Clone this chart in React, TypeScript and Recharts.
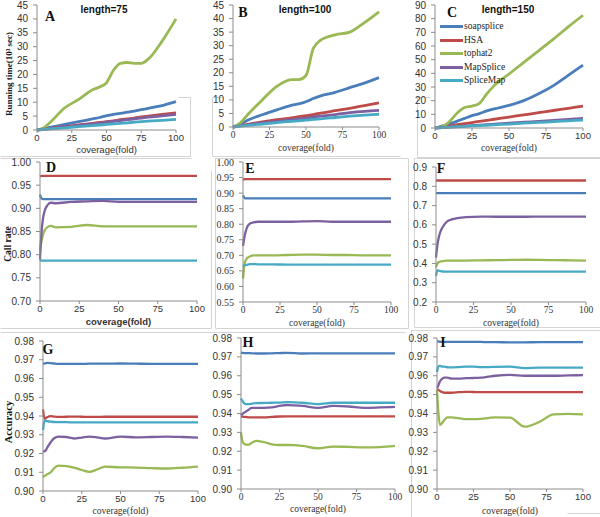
import React from 'react';
import { LineChart, Line, XAxis, YAxis, Legend } from 'recharts';

const SERIES = ['soapsplice', 'HSA', 'tophat2', 'MapSplice', 'SpliceMap'];
const COLORS = ['#4A7EBB', '#BE4B48', '#98B954', '#7D60A0', '#46AAC5'];
const SANS = '"Liberation Sans", Arial, sans-serif';
const SERIF = '"Liberation Serif", "Times New Roman", serif';

const X_TICKS = [0, 25, 50, 75, 100];
const TIME_TICKS = [0, 5, 10, 15, 20, 25, 30, 35, 40, 45];
const TIME_TICKS_C = [0, 10, 20, 30, 40, 50, 60, 70, 80, 90];
const CALL_TICKS_D = [0.7, 0.75, 0.8, 0.85, 0.9, 0.95, 1.0];
const CALL_TICKS_E = [0.55, 0.6, 0.65, 0.7, 0.75, 0.8, 0.85, 0.9, 0.95, 1.0];
const CALL_TICKS_F = [0.2, 0.3, 0.4, 0.5, 0.6, 0.7, 0.8, 0.9];
const ACC_TICKS = [0.9, 0.91, 0.92, 0.93, 0.94, 0.95, 0.96, 0.97, 0.98];

// ---- Running time (10^3 sec) ----
const A_x = [0, 5, 10, 20, 30, 40, 45, 50, 55, 60, 65, 70, 75, 80, 90, 100];
const A_soap = [0, 0.5, 1, 2, 3, 4, 4.5, 5.2, 5.6, 6, 6.4, 6.8, 7.3, 7.8, 8.8, 10.2];
const A_hsa = [0, 0.3, 0.6, 1.2, 1.8, 2.4, 2.7, 3, 3.3, 3.7, 4, 4.3, 4.7, 5, 5.6, 6.2];
const A_tophat = [0, 0.8, 3, 8, 11, 14.5, 15.5, 17, 21.5, 24, 24.3, 24, 24, 25.5, 32, 40];
const A_map = [0, 0.3, 0.5, 1.1, 1.7, 2.2, 2.5, 2.8, 3.1, 3.4, 3.7, 4, 4.3, 4.6, 5.1, 5.6];
const A_smap = [0, 0.2, 0.4, 0.8, 1.2, 1.6, 1.8, 2, 2.2, 2.4, 2.6, 2.8, 3, 3.2, 3.5, 3.8];

const B_x = [0, 5, 10, 20, 30, 40, 45, 50, 55, 60, 70, 80, 90, 100];
const B_soap = [0, 1, 2.5, 4.5, 6.3, 8, 8.5, 9.3, 10.5, 11.5, 12.8, 14.5, 16.2, 18.2];
const B_hsa = [0, 0.5, 1, 1.9, 2.7, 3.4, 3.8, 4.2, 4.6, 5.1, 6, 6.9, 7.9, 8.9];
const B_tophat = [0, 1.5, 4.5, 10, 15, 17.5, 17.5, 19, 29, 32, 34, 35, 38.5, 42.5];
const B_map = [0, 0.4, 0.8, 1.5, 2.1, 2.7, 3, 3.3, 3.7, 4, 4.6, 5.3, 5.8, 6.1];
const B_smap = [0, 0.3, 0.6, 1.1, 1.6, 2.1, 2.3, 2.5, 2.8, 3, 3.5, 4, 4.4, 4.7];

const C_x = [0, 5, 10, 15, 20, 25, 30, 35, 40, 50, 60, 70, 80, 90, 100];
const C_soap = [0, 1.5, 3, 5, 7, 9, 10.5, 12.5, 14, 16.5, 20, 25, 31, 38.5, 46];
const C_hsa = [0, 0.8, 1.6, 2.4, 3.2, 4, 4.8, 5.6, 6.4, 8, 9.6, 11.2, 12.8, 14.4, 16];
const C_tophat = [0, 1, 5, 11, 15, 16, 18, 25, 31, 39.5, 48, 56.5, 65, 74, 82.5];
const C_map = [0, 0.35, 0.7, 1, 1.4, 1.7, 2.1, 2.4, 2.8, 3.5, 4.2, 4.9, 5.6, 6.3, 7];
const C_smap = [0, 0.3, 0.6, 0.9, 1.2, 1.5, 1.8, 2, 2.3, 2.9, 3.5, 4.1, 4.6, 5.2, 5.8];

// ---- Call rate ----
const MID_x = [0, 1, 2, 3, 5, 7, 10, 20, 30, 40, 50, 60, 70, 80, 90, 100];
const D_soap = [0.93, 0.921, 0.92, 0.92, 0.92, 0.92, 0.92, 0.92, 0.92, 0.92, 0.92, 0.92, 0.92, 0.92, 0.92, 0.92];
const D_hsa = [0.969, 0.97, 0.97, 0.97, 0.97, 0.97, 0.97, 0.97, 0.97, 0.97, 0.97, 0.97, 0.97, 0.97, 0.97, 0.97];
const D_tophat = [0.81, 0.83, 0.845, 0.853, 0.86, 0.862, 0.859, 0.86, 0.864, 0.861, 0.861, 0.861, 0.861, 0.861, 0.861, 0.861];
const D_map = [0.79, 0.85, 0.88, 0.895, 0.908, 0.912, 0.911, 0.914, 0.915, 0.916, 0.914, 0.914, 0.914, 0.914, 0.914, 0.914];
const D_smap = [0.79, 0.787, 0.787, 0.787, 0.787, 0.787, 0.787, 0.787, 0.787, 0.787, 0.787, 0.787, 0.787, 0.787, 0.787, 0.787];

const E_soap = [0.893, 0.885, 0.883, 0.883, 0.883, 0.883, 0.883, 0.883, 0.883, 0.883, 0.883, 0.883, 0.883, 0.883, 0.883, 0.883];
const E_hsa = [0.942, 0.945, 0.945, 0.945, 0.945, 0.945, 0.945, 0.945, 0.945, 0.945, 0.945, 0.945, 0.945, 0.945, 0.945, 0.945];
const E_tophat = [0.625, 0.67, 0.686, 0.692, 0.697, 0.7, 0.7, 0.7, 0.701, 0.702, 0.702, 0.701, 0.701, 0.7, 0.7, 0.7];
const E_map = [0.73, 0.76, 0.78, 0.793, 0.803, 0.806, 0.808, 0.808, 0.808, 0.809, 0.81, 0.808, 0.808, 0.808, 0.808, 0.808];
const E_smap = [0.665, 0.668, 0.669, 0.67, 0.672, 0.672, 0.671, 0.671, 0.67, 0.67, 0.67, 0.67, 0.67, 0.67, 0.67, 0.67];

const F_soap = [0.765, 0.765, 0.765, 0.765, 0.765, 0.765, 0.765, 0.765, 0.765, 0.765, 0.765, 0.765, 0.765, 0.765, 0.765, 0.765];
const F_hsa = [0.83, 0.83, 0.83, 0.83, 0.83, 0.83, 0.83, 0.83, 0.83, 0.83, 0.83, 0.83, 0.83, 0.83, 0.83, 0.83];
const F_tophat = [0.38, 0.4, 0.408, 0.41, 0.412, 0.414, 0.415, 0.415, 0.416, 0.417, 0.418, 0.419, 0.418, 0.417, 0.416, 0.415];
const F_map = [0.43, 0.5, 0.54, 0.565, 0.595, 0.615, 0.627, 0.64, 0.643, 0.642, 0.642, 0.642, 0.643, 0.643, 0.643, 0.643];
const F_smap = [0.335, 0.365, 0.362, 0.36, 0.358, 0.357, 0.357, 0.357, 0.357, 0.357, 0.357, 0.357, 0.357, 0.357, 0.357, 0.357];

// ---- Accuracy ----
const BOT_x = [0, 1, 2, 3, 5, 7, 10, 15, 20, 25, 30, 35, 40, 50, 60, 70, 80, 90, 100];
const G_soap = [0.9678, 0.968, 0.9682, 0.9683, 0.9682, 0.968, 0.9678, 0.9678, 0.9678, 0.9678, 0.9679, 0.9679, 0.9679, 0.968, 0.9679, 0.9678, 0.9678, 0.9678, 0.9678];
const G_hsa = [0.9435, 0.9385, 0.939, 0.9395, 0.9399, 0.9397, 0.9395, 0.9396, 0.9397, 0.9396, 0.9395, 0.9395, 0.9396, 0.9396, 0.9396, 0.9396, 0.9396, 0.9396, 0.9396];
const G_tophat = [0.9075, 0.908, 0.9085, 0.909, 0.91, 0.912, 0.9135, 0.9133, 0.9125, 0.9112, 0.9102, 0.9115, 0.913, 0.9126, 0.9125, 0.9122, 0.912, 0.9124, 0.913];
const G_map = [0.921, 0.9212, 0.922, 0.9235, 0.926, 0.928, 0.929, 0.9288, 0.928, 0.9285, 0.929, 0.9286, 0.928, 0.929, 0.9286, 0.9288, 0.929, 0.9288, 0.9285];
const G_smap = [0.9325, 0.9375, 0.9374, 0.9372, 0.937, 0.9368, 0.9367, 0.9367, 0.9366, 0.9366, 0.9366, 0.9366, 0.9366, 0.9366, 0.9366, 0.9366, 0.9366, 0.9366, 0.9366];

const H_soap = [0.9722, 0.9721, 0.972, 0.972, 0.972, 0.9719, 0.9718, 0.9718, 0.9719, 0.972, 0.9721, 0.972, 0.9718, 0.9719, 0.9719, 0.9719, 0.9719, 0.9719, 0.9719];
const H_hsa = [0.9385, 0.9383, 0.9382, 0.9382, 0.938, 0.938, 0.9379, 0.938, 0.9382, 0.9384, 0.9385, 0.9385, 0.9385, 0.9385, 0.9385, 0.9385, 0.9385, 0.9385, 0.9385];
const H_tophat = [0.93, 0.925, 0.924, 0.9235, 0.9235, 0.9245, 0.9255, 0.9248, 0.9237, 0.9233, 0.9233, 0.9232, 0.9228, 0.9216, 0.9225, 0.9223, 0.9221, 0.9222, 0.9228];
const H_map = [0.939, 0.9398, 0.9405, 0.941, 0.942, 0.943, 0.943, 0.943, 0.9432, 0.944, 0.9445, 0.9443, 0.944, 0.943, 0.944, 0.9437, 0.943, 0.9432, 0.9435];
const H_smap = [0.948, 0.9465, 0.9455, 0.945, 0.945, 0.9452, 0.9455, 0.9456, 0.9457, 0.9458, 0.946, 0.9459, 0.9457, 0.945, 0.9457, 0.9457, 0.9457, 0.9457, 0.9457];

const I_soap = [0.9782, 0.9782, 0.978, 0.978, 0.9779, 0.9779, 0.978, 0.978, 0.978, 0.9779, 0.9779, 0.9778, 0.9778, 0.9777, 0.9777, 0.9778, 0.9778, 0.9778, 0.9778];
const I_hsa = [0.953, 0.9525, 0.952, 0.9515, 0.951, 0.951, 0.951, 0.9513, 0.9515, 0.9514, 0.9513, 0.9513, 0.9513, 0.9513, 0.9513, 0.9513, 0.9513, 0.9513, 0.9513];
const I_tophat = [0.9525, 0.94, 0.934, 0.9345, 0.9365, 0.938, 0.938, 0.9375, 0.937, 0.937, 0.9372, 0.9376, 0.938, 0.9378, 0.933, 0.9355, 0.9395, 0.9398, 0.9395];
const I_map = [0.9535, 0.955, 0.957, 0.958, 0.959, 0.959, 0.9585, 0.9585, 0.9587, 0.9588, 0.959, 0.9595, 0.96, 0.9605, 0.96, 0.96, 0.96, 0.9602, 0.9603];
const I_smap = [0.962, 0.965, 0.9652, 0.965, 0.9648, 0.9645, 0.9644, 0.9646, 0.9648, 0.9648, 0.9646, 0.9646, 0.9647, 0.9648, 0.964, 0.9643, 0.9643, 0.9643, 0.9643];

type Panel = {
  id: string;
  x: number[];
  series: number[][];
  domain: [number, number];
  ticks: number[];
  digits: number;
  plot: { x: number; y: number; w: number; h: number };
  yFont: string;
  xFont: string;
  labelFont: string;
  labelBold: boolean;
  labelDy: number;
  lw: number;
  legend?: boolean;
};

const PANELS: Panel[] = [
  { id: 'A', x: A_x, series: [A_soap, A_hsa, A_tophat, A_map, A_smap], domain: [0, 45], ticks: TIME_TICKS, digits: 0,
    plot: { x: 37, y: 5, w: 139, h: 125 }, yFont: SANS, xFont: SANS, labelFont: SANS, labelBold: false, labelDy: 19.5, lw: 2.8 },
  { id: 'B', x: B_x, series: [B_soap, B_hsa, B_tophat, B_map, B_smap], domain: [0, 45], ticks: TIME_TICKS, digits: 0,
    plot: { x: 233, y: 5, w: 146, h: 122 }, yFont: SANS, xFont: SERIF, labelFont: SERIF, labelBold: false, labelDy: 20.5, lw: 2.8 },
  { id: 'C', x: C_x, series: [C_soap, C_hsa, C_tophat, C_map, C_smap], domain: [0, 90], ticks: TIME_TICKS_C, digits: 0,
    plot: { x: 435, y: 5, w: 148, h: 123 }, yFont: SANS, xFont: SANS, labelFont: SERIF, labelBold: false, labelDy: 20, lw: 2.8, legend: true },
  { id: 'D', x: MID_x, series: [D_soap, D_hsa, D_tophat, D_map, D_smap], domain: [0.7, 1.0], ticks: CALL_TICKS_D, digits: 2,
    plot: { x: 40, y: 162, w: 157, h: 139 }, yFont: SANS, xFont: SANS, labelFont: SANS, labelBold: true, labelDy: 21, lw: 2.3 },
  { id: 'E', x: MID_x, series: [E_soap, E_hsa, E_tophat, E_map, E_smap], domain: [0.55, 1.0], ticks: CALL_TICKS_E, digits: 2,
    plot: { x: 243, y: 162, w: 148, h: 140 }, yFont: SERIF, xFont: SERIF, labelFont: SERIF, labelBold: false, labelDy: 20.5, lw: 2.3 },
  { id: 'F', x: MID_x, series: [F_soap, F_hsa, F_tophat, F_map, F_smap], domain: [0.2, 0.9], ticks: CALL_TICKS_F, digits: 1,
    plot: { x: 436, y: 167, w: 150, h: 135 }, yFont: SANS, xFont: SERIF, labelFont: SERIF, labelBold: false, labelDy: 20.5, lw: 2.3 },
  { id: 'G', x: BOT_x, series: [G_soap, G_hsa, G_tophat, G_map, G_smap], domain: [0.9, 0.98], ticks: ACC_TICKS, digits: 2,
    plot: { x: 43, y: 341, w: 155, h: 150 }, yFont: SANS, xFont: SANS, labelFont: SERIF, labelBold: false, labelDy: 20, lw: 2.3 },
  { id: 'H', x: BOT_x, series: [H_soap, H_hsa, H_tophat, H_map, H_smap], domain: [0.9, 0.98], ticks: ACC_TICKS, digits: 2,
    plot: { x: 241, y: 338, w: 154, h: 151 }, yFont: SANS, xFont: SERIF, labelFont: SERIF, labelBold: false, labelDy: 20, lw: 2.3 },
  { id: 'I', x: BOT_x, series: [I_soap, I_hsa, I_tophat, I_map, I_smap], domain: [0.9, 0.98], ticks: ACC_TICKS, digits: 2,
    plot: { x: 437, y: 338, w: 146, h: 151 }, yFont: SANS, xFont: SANS, labelFont: SERIF, labelBold: false, labelDy: 22, lw: 2.3 },
];

const LETTERS = [
  { t: 'A', x: 50, y: 17 }, { t: 'B', x: 243, y: 13 }, { t: 'C', x: 452, y: 13 },
  { t: 'D', x: 51, y: 168 }, { t: 'E', x: 250, y: 169 }, { t: 'F', x: 441, y: 169 },
  { t: 'G', x: 48, y: 350 }, { t: 'H', x: 248, y: 343 }, { t: 'I', x: 443, y: 343 },
];
const TITLES = [
  { t: 'length=75', x: 104, y: 10 }, { t: 'length=100', x: 305, y: 10 }, { t: 'length=150', x: 508, y: 10 },
];

const FRAMES = [
  [190, 97, 190, 156], [0, 156, 190, 156], [178, 97, 190, 97],
  [212, 97, 212, 156], [212, 156, 400, 156], [212, 97, 222, 97],
  [417, 97, 417, 157], [417, 157, 600, 157], [417, 97, 430, 97],
  [0, 158, 191, 158], [211, 170, 211, 328], [0, 328, 211, 328],
  [215, 158, 408, 158], [215, 158, 215, 328], [408, 158, 408, 328], [215, 328, 408, 328],
  [414, 158, 600, 158], [414, 158, 414, 327], [414, 327, 600, 327],
  [0, 332, 405, 332],
  [411, 330, 600, 330], [411, 330, 411, 517], [567, 513, 600, 513],
];

const YW = 34, MT = 8, MR = 14, XH = 30;

function LegendBox() {
  return (
    <div style={{ fontFamily: SERIF, fontSize: 9.5, color: '#222' }}>
      {SERIES.map((s, i) => (
        <div key={s} style={{ display: 'flex', alignItems: 'center', height: 13.5 }}>
          <span style={{ display: 'inline-block', width: 23, height: 3, background: COLORS[i] }} />
          <span style={{ marginLeft: 1, lineHeight: '13.5px' }}>{s}</span>
        </div>
      ))}
    </div>
  );
}

function PanelChart({ p }: { p: Panel }) {
  const W = p.plot.w + YW + MR;
  const H = p.plot.h + MT + XH;
  const data = p.x.map((c, i) => {
    const row: any = { c };
    SERIES.forEach((s, k) => { row[s] = p.series[k][i]; });
    return row;
  });
  const xLabel = (props: any) => {
    const vb = props.viewBox || { x: YW, y: MT + p.plot.h, width: p.plot.w, height: XH };
    return (
      <text x={vb.x + vb.width / 2} y={vb.y + p.labelDy} dy="0.35em" textAnchor="middle"
        fontFamily={p.labelFont} fontSize={9.5} fontWeight={p.labelBold ? 'bold' : 'normal'} fill="#333">
        coverage(fold)
      </text>
    );
  };
  return (
    <div style={{ position: 'absolute', left: p.plot.x - YW, top: p.plot.y - MT }}>
      <LineChart width={W} height={H} data={data} margin={{ top: MT, right: MR, left: 0, bottom: 0 }}>
        <XAxis dataKey="c" type="number" domain={[0, 100]} ticks={X_TICKS} interval={0} height={XH}
          axisLine={{ stroke: '#8c8c8c' }} tickLine={{ stroke: '#8c8c8c' }} tickSize={3} tickMargin={1}
          tick={{ fontSize: 9.5, fill: '#333', fontFamily: p.xFont }} label={xLabel} />
        <YAxis type="number" domain={p.domain} ticks={p.ticks} interval={0} width={YW}
          axisLine={{ stroke: '#8c8c8c' }} tickLine={{ stroke: '#8c8c8c' }} tickSize={4} tickMargin={5}
          tick={{ fontSize: 10, fill: '#333', fontFamily: p.yFont }}
          tickFormatter={(v: number) => v.toFixed(p.digits)} />
        {SERIES.map((s, k) => (
          <Line key={s} dataKey={s} type="monotone" stroke={COLORS[k]} strokeWidth={p.lw}
            dot={false} activeDot={false} isAnimationActive={false} />
        ))}
        {p.legend && (
          <Legend layout="vertical" align="center" verticalAlign="middle"
            wrapperStyle={{ left: 39, top: 23, width: 80, height: 70 }} content={() => <LegendBox />} />
        )}
      </LineChart>
    </div>
  );
}

export default function App() {
  return (
    <div style={{ position: 'absolute', left: 0, top: 0, width: 600, height: 517, background: '#fff', overflow: 'hidden' }}>
      <svg width={600} height={517} style={{ position: 'absolute', left: 0, top: 0 }}>
        {FRAMES.map((f, i) => (
          <line key={i} x1={f[0] + 0.5} y1={f[1] + 0.5} x2={f[2] + 0.5} y2={f[3] + 0.5} stroke="#d4d4d4" strokeWidth={1} />
        ))}
      </svg>
      {PANELS.map((p) => <PanelChart key={p.id} p={p} />)}
      {LETTERS.map((l) => (
        <div key={l.t} style={{ position: 'absolute', left: l.x, top: l.y, transform: 'translate(-50%,-50%)',
          fontFamily: SERIF, fontWeight: 'bold', fontSize: 14, lineHeight: 1, color: '#111' }}>{l.t}</div>
      ))}
      {TITLES.map((t) => (
        <div key={t.t} style={{ position: 'absolute', left: t.x, top: t.y, transform: 'translate(-50%,-50%)',
          fontFamily: SANS, fontWeight: 'bold', fontSize: 10, lineHeight: 1, color: '#111', whiteSpace: 'nowrap' }}>{t.t}</div>
      ))}
      <div style={{ position: 'absolute', left: 9, top: 74, transform: 'translate(-50%,-50%) rotate(-90deg)',
        fontFamily: SERIF, fontWeight: 'bold', fontSize: 9, lineHeight: 1, color: '#111', whiteSpace: 'nowrap' }}>Running time(10³ sec)</div>
      <div style={{ position: 'absolute', left: 9, top: 244, transform: 'translate(-50%,-50%) rotate(-90deg)',
        fontFamily: SERIF, fontWeight: 'bold', fontSize: 9.5, lineHeight: 1, color: '#111', whiteSpace: 'nowrap' }}>Call rate</div>
      <div style={{ position: 'absolute', left: 9, top: 422, transform: 'translate(-50%,-50%) rotate(-90deg)',
        fontFamily: SERIF, fontWeight: 'bold', fontSize: 10.5, lineHeight: 1, color: '#111', whiteSpace: 'nowrap' }}>Accuracy</div>
    </div>
  );
}
